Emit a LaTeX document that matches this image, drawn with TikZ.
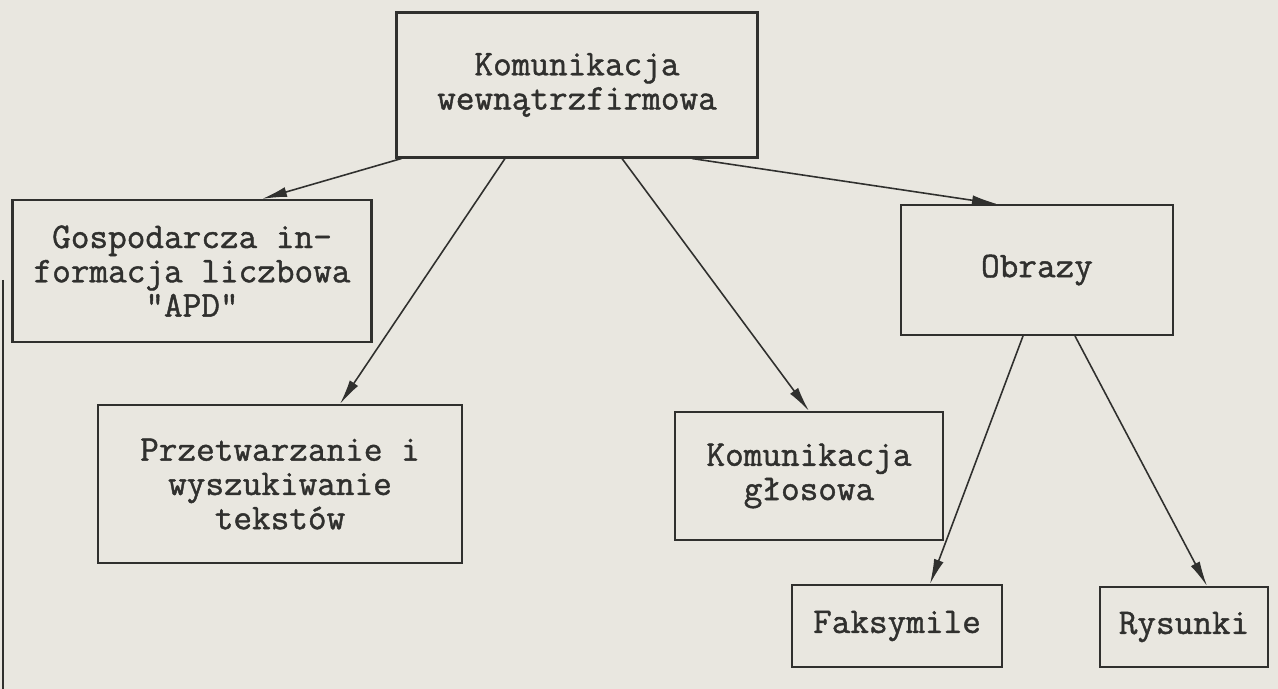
\documentclass[tikz,border=0pt]{standalone}
\usepackage{fontspec}
\usepackage{xcolor}
\usepackage{tikz}
\usetikzlibrary{arrows.meta,calc}
\newfontfamily\typewriter[FakeBold=1.2]{Latin Modern Mono}
\definecolor{PaperBg}{RGB}{233,231,224}
\definecolor{InkGray}{RGB}{48,48,46}

\begin{document}
\begin{tikzpicture}[
  x=0.02cm,
  y=-0.02cm,
  box/.style={
    rectangle,
    draw=InkGray,
    line width=1.2pt,
    text=InkGray,
    align=center,
    inner sep=0pt,
    font=\fontsize{20.6}{19.5}\selectfont\typewriter
  },
  arrow/.style={-{Latex[length=0.5cm, width=0.2cm]}, draw=InkGray, line width=0.9pt}
]
\fill[PaperBg] (0,0) rectangle (1278,689);
\useasboundingbox (0,0) rectangle (1278,689);

% Top: the whole
\node[box, minimum width=7.22cm, minimum height=2.9cm] (top) at (577,85) {Komunikacja\\wewnątrzfirmowa};

% Row 2: branches
\node[box, minimum width=7.18cm, minimum height=2.84cm] (gosp) at (192,271) {Gospodarcza in-\\formacja liczbowa\\"APD"};
\node[box, minimum width=5.44cm, minimum height=2.6cm] (obr) at (1037,270) {Obrazy};

% Row 3
\node[box, minimum width=7.28cm, minimum height=3.16cm] (prze) at (280,484) {Przetwarzanie i\\wyszukiwanie\\tekstów};
\node[box, minimum width=5.36cm, minimum height=2.56cm] (glos) at (809,476) {Komunikacja\\głosowa};

% Row 4: kinds of pictures
\node[box, minimum width=4.2cm, minimum height=1.64cm] (faks) at (897,626) {Faksymile};
\node[box, minimum width=3.36cm, minimum height=1.6cm] (rys) at (1184,627) {Rysunki};

\draw[arrow] ($(top.south west)+(6,0)$) -- ($(gosp.north)+(70,0)$);
\draw[arrow] ($(top.south)+(-72,0)$) -- ($(prze.north)+(60,0)$);
\draw[arrow] ($(top.south)+(45,0)$) -- (glos.north);
\draw[arrow] ($(top.south)+(115,0)$) -- ($(obr.north)+(-40,0)$);
\draw[arrow] ($(obr.south)+(-14,0)$) -- ($(faks.north)+(33,0)$);
\draw[arrow] ($(obr.south)+(38,0)$) -- ($(rys.north)+(23,0)$);

% frame edge on the left
\draw[InkGray, line width=1.2pt] (3,280) -- (3,689);
\end{tikzpicture}
\end{document}
